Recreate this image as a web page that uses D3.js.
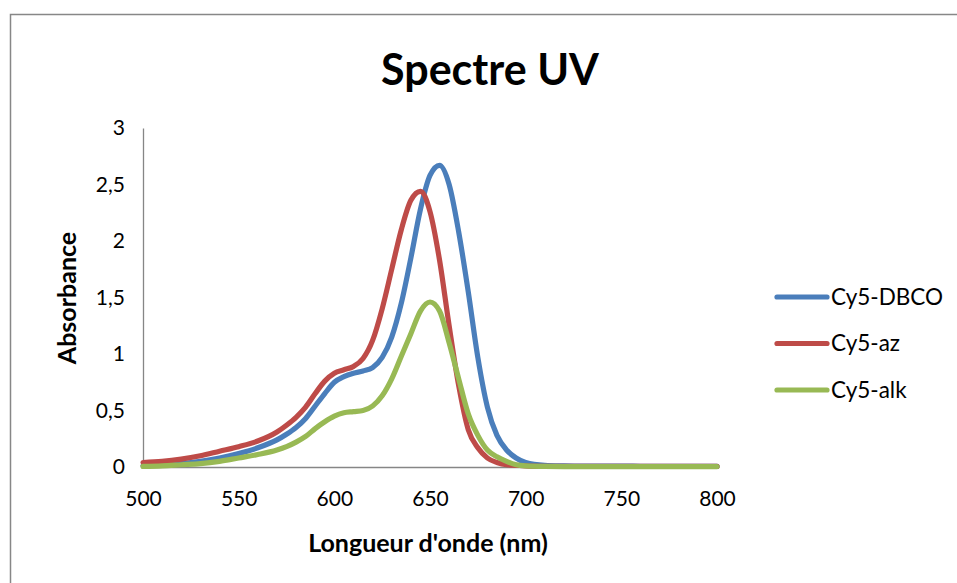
<!DOCTYPE html>
<html>
<head>
<meta charset="utf-8">
<script src="https://cdn.jsdelivr.net/npm/d3@7"></script>
<style>
  html, body { margin: 0; padding: 0; background: #fff; }
  svg { display: block; font-family: Lato, "Open Sans", sans-serif; }
</style>
</head>
<body>
<svg id="chart" width="957" height="583"></svg>
<script>
// Wavelengths (nm) and absorbance for each dye conjugate
const wavelengths = [500, 510, 520, 530, 540, 550, 560, 570, 575, 580, 585, 590, 595, 600, 605, 610, 615, 620, 625, 630, 635, 640, 645, 650, 655, 660, 665, 670, 675, 680, 685, 690, 695, 700, 710, 720, 730, 740, 750, 760, 770, 780, 790, 800];
const cy5DBCO = [0.01, 0.02, 0.03, 0.05, 0.08, 0.12, 0.17, 0.24, 0.29, 0.35, 0.43, 0.54, 0.65, 0.75, 0.80, 0.83, 0.85, 0.88, 0.97, 1.15, 1.45, 1.85, 2.28, 2.58, 2.67, 2.50, 2.08, 1.55, 0.97, 0.53, 0.28, 0.15, 0.08, 0.04, 0.015, 0.01, 0.008, 0.008, 0.008, 0.006, 0.005, 0.005, 0.005, 0.005];
const cy5Az   = [0.04, 0.05, 0.07, 0.10, 0.14, 0.18, 0.23, 0.31, 0.37, 0.44, 0.53, 0.65, 0.76, 0.83, 0.86, 0.89, 0.96, 1.12, 1.40, 1.75, 2.10, 2.36, 2.44, 2.26, 1.83, 1.25, 0.72, 0.33, 0.17, 0.08, 0.04, 0.02, 0.015, 0.01, 0.006, 0.005, 0.005, 0.006, 0.006, 0.005, 0.005, 0.005, 0.005, 0.005];
const cy5Alk  = [0.005, 0.01, 0.02, 0.03, 0.05, 0.08, 0.11, 0.15, 0.18, 0.22, 0.27, 0.34, 0.40, 0.45, 0.48, 0.49, 0.50, 0.54, 0.63, 0.78, 0.98, 1.18, 1.38, 1.46, 1.38, 1.10, 0.78, 0.47, 0.28, 0.15, 0.09, 0.05, 0.02, 0.01, 0.005, 0.004, 0.004, 0.004, 0.004, 0.004, 0.004, 0.004, 0.004, 0.004];

const seriesNames = ["Cy5-DBCO", "Cy5-az", "Cy5-alk"];
const seriesValues = [cy5DBCO, cy5Az, cy5Alk];
const seriesColors = ["#4A7EBB", "#BE4B48", "#98B954"];

const xTicks = [500, 550, 600, 650, 700, 750, 800];
const yTicks = [0, 0.5, 1, 1.5, 2, 2.5, 3];

const svg = d3.select("#chart");

// Outer chart frame
svg.append("path")
  .attr("d", "M10.5,583 L10.5,14.5 L957,14.5")
  .attr("fill", "none")
  .attr("stroke", "#878787")
  .attr("stroke-width", 1.5);

const plot = { left: 143, right: 717, top: 128, bottom: 467 };

const x = d3.scaleLinear().domain([500, 800]).range([plot.left, plot.right]);
const y = d3.scaleLinear().domain([0, 3]).range([plot.bottom, plot.top]);

const fmt = d => String(d).replace(".", ",");

// Title
svg.append("text")
  .attr("x", 490).attr("y", 85)
  .attr("text-anchor", "middle")
  .attr("font-size", 43).attr("font-weight", "bold")
  .attr("fill", "#000")
  .text("Spectre UV");

// Y axis
const yAxis = svg.append("g")
  .attr("transform", `translate(${plot.left},0)`)
  .call(d3.axisLeft(y).tickValues(yTicks).tickFormat(fmt).tickSize(0).tickPadding(18));
yAxis.select(".domain").attr("stroke", "#868686").attr("stroke-width", 1.3);
yAxis.selectAll("text").attr("font-size", 21).attr("fill", "#000")
  .attr("font-family", "Lato, 'Open Sans', sans-serif");

// X axis
const xAxis = svg.append("g")
  .attr("transform", `translate(0,${plot.bottom})`)
  .call(d3.axisBottom(x).tickValues(xTicks).tickFormat(fmt).tickSize(0).tickPadding(24));
xAxis.select(".domain").attr("stroke", "#868686").attr("stroke-width", 1.3);
xAxis.selectAll("text").attr("font-size", 21).attr("fill", "#000")
  .attr("font-family", "Lato, 'Open Sans', sans-serif");

// Axis titles
svg.append("text")
  .attr("transform", "translate(76,298) rotate(-90)")
  .attr("text-anchor", "middle")
  .attr("font-size", 25).attr("font-weight", "bold")
  .text("Absorbance");

svg.append("text")
  .attr("x", 428).attr("y", 552)
  .attr("text-anchor", "middle")
  .attr("font-size", 25).attr("font-weight", "bold")
  .text("Longueur d'onde (nm)");

// Spectra (smoothed lines)
const line = d3.line()
  .x(d => x(d[0]))
  .y(d => y(d[1]))
  .curve(d3.curveMonotoneX);

seriesValues.forEach((vals, i) => {
  svg.append("path")
    .datum(wavelengths.map((w, j) => [w, vals[j]]))
    .attr("d", line)
    .attr("fill", "none")
    .attr("stroke", seriesColors[i])
    .attr("stroke-width", 5.2)
    .attr("stroke-linecap", "round")
    .attr("stroke-linejoin", "round");
});

// Legend
const legend = svg.append("g");
seriesNames.forEach((name, i) => {
  const ly = 297 + i * 46.5;
  legend.append("line")
    .attr("x1", 777).attr("x2", 827)
    .attr("y1", ly).attr("y2", ly)
    .attr("stroke", seriesColors[i])
    .attr("stroke-width", 5.2)
    .attr("stroke-linecap", "round");
  legend.append("text")
    .attr("x", 831).attr("y", ly)
    .attr("dy", "0.35em")
    .attr("font-size", 22.5)
    .text(name);
});
</script>
</body>
</html>
